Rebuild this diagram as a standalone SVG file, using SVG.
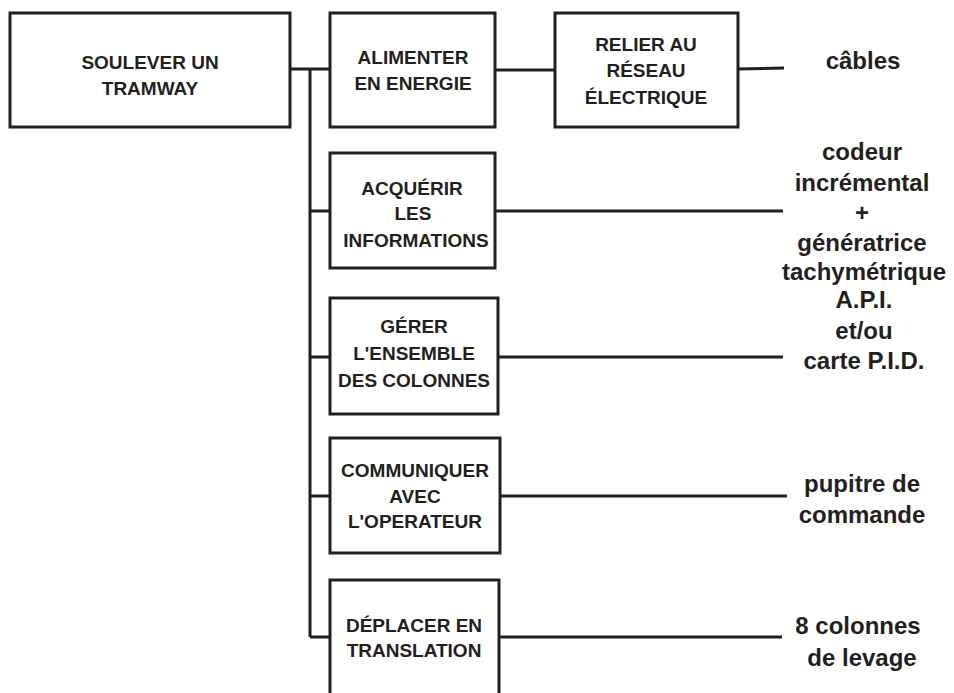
<svg xmlns="http://www.w3.org/2000/svg" width="954" height="693" viewBox="0 0 954 693">
<style>
.box{fill:#fff;stroke:#231f20;stroke-width:3}
.ln{stroke:#231f20;stroke-width:3;fill:none;stroke-linecap:butt}
.bt{font-family:"Liberation Sans",Arial,sans-serif;font-weight:bold;font-size:19px;fill:#231f20;text-anchor:middle}
.rt{font-family:"Liberation Sans",Arial,sans-serif;font-weight:bold;font-size:24px;fill:#231f20;text-anchor:middle}
</style>
<rect width="954" height="693" fill="#fff"/>
<g id="connectors">
<path class="ln" d="M290 69H330M310 69V637M310 211H330M310 357H330M310 496H330M310 637H330"/>
<path class="ln" d="M495 70H555M738 69L784 68"/>
<path class="ln" d="M495 211H783M498 357H783M500 496H787M499 637H782"/>
</g>
<g id="n-soulever"><rect class="box" x="10" y="13" width="280" height="114"/><text class="bt" x="150" y="69">SOULEVER UN</text><text class="bt" x="150" y="95">TRAMWAY</text></g>
<g id="n-alimenter"><rect class="box" x="330" y="13" width="165" height="114"/><text class="bt" x="413" y="64">ALIMENTER</text><text class="bt" x="413" y="90">EN ENERGIE</text></g>
<g id="n-relier"><rect class="box" x="555" y="13" width="183" height="114"/><text class="bt" x="646" y="51">RELIER AU</text><text class="bt" x="646" y="77">RÉSEAU</text><text class="bt" x="646" y="104">ÉLECTRIQUE</text></g>
<g id="n-acquerir"><rect class="box" x="330" y="153" width="165" height="115"/><text class="bt" x="412" y="195">ACQUÉRIR</text><text class="bt" x="413" y="220">LES</text><text class="bt" x="416" y="247">INFORMATIONS</text></g>
<g id="n-gerer"><rect class="box" x="330" y="298" width="168" height="116"/><text class="bt" x="414" y="333">GÉRER</text><text class="bt" x="414" y="360">L'ENSEMBLE</text><text class="bt" x="414" y="387">DES COLONNES</text></g>
<g id="n-communiquer"><rect class="box" x="330" y="438" width="170" height="115"/><text class="bt" x="415" y="477">COMMUNIQUER</text><text class="bt" x="415" y="503">AVEC</text><text class="bt" x="415" y="528">L'OPERATEUR</text></g>
<g id="n-deplacer"><rect class="box" x="330" y="580" width="169" height="130"/><text class="bt" x="414" y="632">DÉPLACER EN</text><text class="bt" x="414" y="657">TRANSLATION</text></g>
<g id="t-cables"><text class="rt" x="863" y="69">câbles</text></g>
<g id="t-codeur"><text class="rt" x="862" y="160">codeur</text><text class="rt" x="862" y="191">incrémental</text><text class="rt" x="862" y="221">+</text><text class="rt" x="862" y="251">génératrice</text><text class="rt" x="864" y="280">tachymétrique</text></g>
<g id="t-api"><text class="rt" x="864" y="308">A.P.I.</text><text class="rt" x="864" y="339">et/ou</text><text class="rt" x="864" y="369">carte P.I.D.</text></g>
<g id="t-pupitre"><text class="rt" x="862" y="492">pupitre de</text><text class="rt" x="862" y="523">commande</text></g>
<g id="t-colonnes"><text class="rt" x="858" y="634">8 colonnes</text><text class="rt" x="862" y="666">de levage</text></g>
</svg>
